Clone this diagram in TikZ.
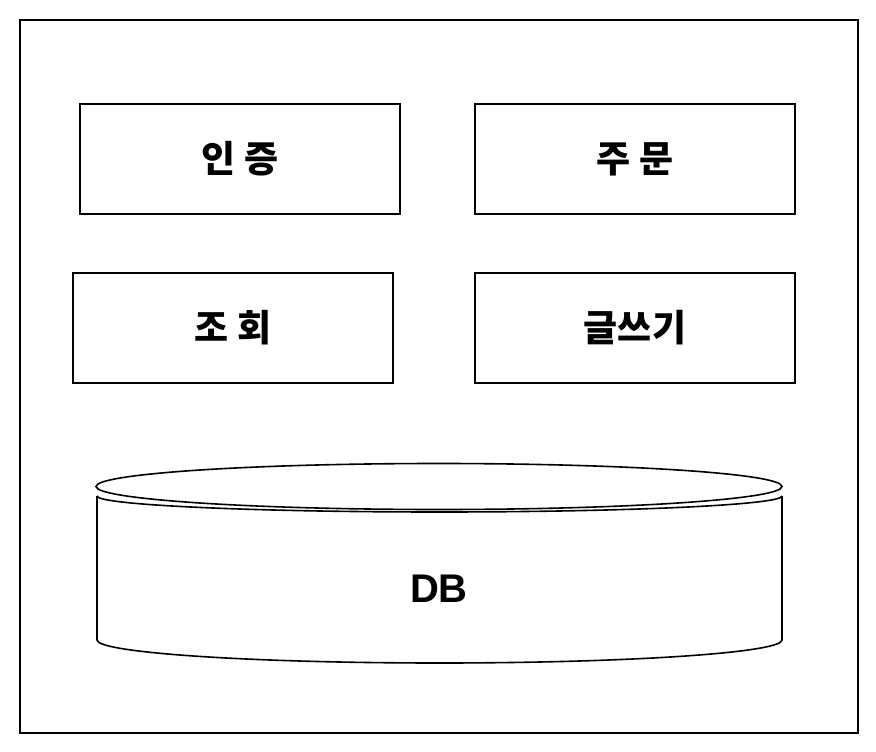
\documentclass[tikz,border=0pt]{standalone}
\usepackage{fontspec}
\usepackage{tikz}
\usetikzlibrary{positioning}
\newfontfamily\kr{Noto Sans CJK KR}
\newfontfamily\lat{Liberation Sans}

\begin{document}
\begin{tikzpicture}
  [
   x=1pt,y=-1pt,
   line width=1.6pt,
   mod/.style={rectangle,draw=black,line width=1.6pt,minimum width=320pt,minimum height=110pt,inner sep=0pt,font=\kr\bfseries\fontsize{37}{42}\selectfont},
   dbl/.style={font=\lat\bfseries\fontsize{40}{44}\selectfont}
  ]
   \useasboundingbox (0,0) rectangle (876,752);
   \draw (20,20) rectangle (858,733);

   \node[mod] (auth)  at (240,159) {인 증};
   \node[mod] (order) at (635,159) {주 문};
   \node[mod] (query) at (233,328) {조 회};
   \node[mod] (write) at (635,328) {글쓰기};

   % DB cylinder
   \draw (439,486.5) ellipse [x radius=343, y radius=23];
   \draw (97,496) -- (97,640) arc [start angle=180, end angle=0, x radius=342.5, y radius=23] -- (782,496);
   \draw (97,496) arc [start angle=180, end angle=0, x radius=342.5, y radius=16];
   \node[dbl] (db) at (439,589) {DB};

\end{tikzpicture}
\end{document}
